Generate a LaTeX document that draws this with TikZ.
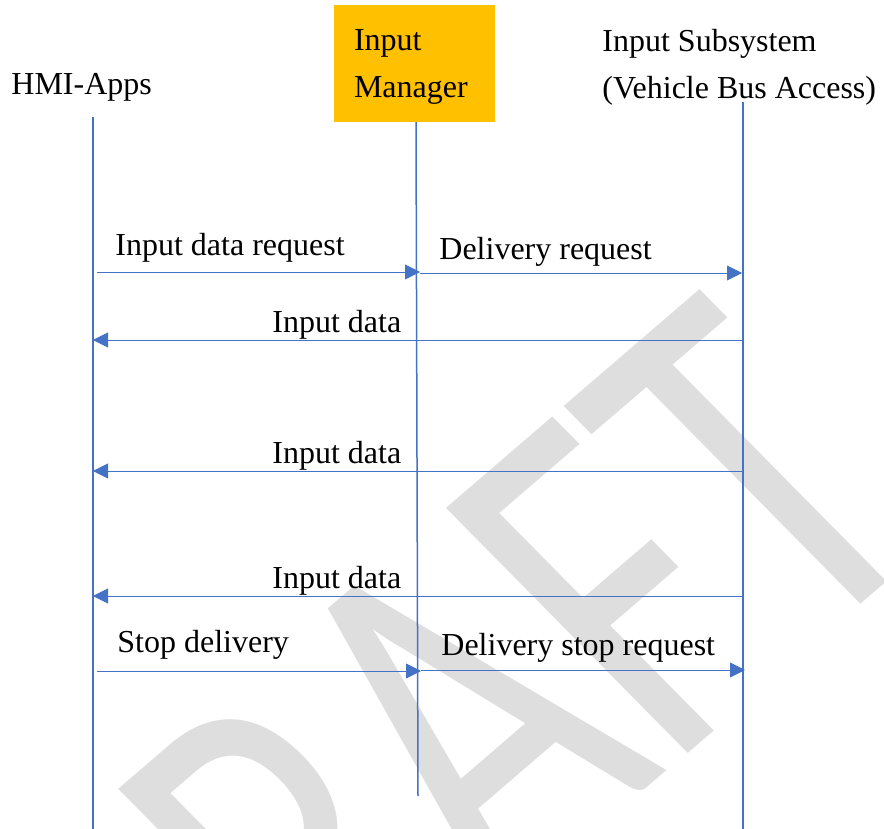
\documentclass[tikz,border=0pt]{standalone}
\usepackage{fontspec}
\setmainfont{Liberation Serif}
\newfontfamily\wmfont{Carlito}
\usetikzlibrary{arrows.meta}
\definecolor{lineblue}{HTML}{4472C4}
\definecolor{boxorange}{HTML}{FFC000}
\definecolor{wmgray}{HTML}{DEDEDE}

\begin{document}
\begin{tikzpicture}[
    x=0.5pt, y=-0.5pt,
    every node/.style={font=\fontsize{16}{23.5}\selectfont, inner sep=0pt},
    lifeline/.style={draw=lineblue, line width=0.75pt},
    msg/.style={draw=lineblue, line width=0.45pt, -{Triangle[length=7.5pt,width=7.5pt]}},
    lbl/.style={anchor=base west}
]
\useasboundingbox (0,0) rectangle (884,829);
\clip (0,0) rectangle (884,829);

% watermark
\begin{scope}[shift={(159,1208)}]
  \node[wmgray, anchor=base west, cm={0.586,0.504,-0.754,0.764,(0,0)},
        font=\wmfont\fontsize{250}{250}\selectfont] (draft) at (0,0) {DRAFT};
\end{scope}

% lifelines
\coordinate (hmiTop) at (93,117);
\coordinate (hmiBot) at (93,829);
\coordinate (imTop) at (416,122);
\coordinate (imBot) at (418,796);
\coordinate (subTop) at (743,102);
\coordinate (subBot) at (743,829);
\draw[lifeline] (hmiTop) -- (hmiBot);
\draw[lifeline] (imTop) -- (imBot);
\draw[lifeline] (subTop) -- (subBot);

% message end points
\foreach \name/\x/\y in {a1/97/272, a2/420/272, b1/420/273, b2/742/273,
                         c1/743/340, c2/93/340, d1/743/471, d2/93/471,
                         e1/743/596, e2/93/596, f1/97/671, f2/421/671,
                         g1/421/670, g2/745/670}
    \coordinate (\name) at (\x,\y);

\draw[msg] (a1) -- (a2);
\draw[msg] (b1) -- (b2);
\draw[msg] (c1) -- (c2);
\draw[msg] (d1) -- (d2);
\draw[msg] (e1) -- (e2);
\draw[msg] (f1) -- (f2);
\draw[msg] (g1) -- (g2);

% headers
\node[anchor=base west] (hmi) at (11,95) {HMI-Apps};
\node[fill=boxorange, minimum width=80.5pt, minimum height=58.5pt,
      text width=60.5pt, text height=13.5pt, align=left] (im) at (414.5,63.5) {Input\\Manager};
\node[anchor=west, align=left] (sub) at (602,67) {Input Subsystem\\(Vehicle Bus Access)};

% message labels
\node[lbl] (reqA) at (115,256) {Input data request};
\node[lbl] (reqB) at (439,259) {Delivery request};
\node[lbl] (datA) at (272,332) {Input data};
\node[lbl] (datB) at (272,463) {Input data};
\node[lbl] (datC) at (272,588) {Input data};
\node[lbl] (stopA) at (117,652) {Stop delivery};
\node[lbl] (stopB) at (441,655) {Delivery stop request};
\end{tikzpicture}
\end{document}
